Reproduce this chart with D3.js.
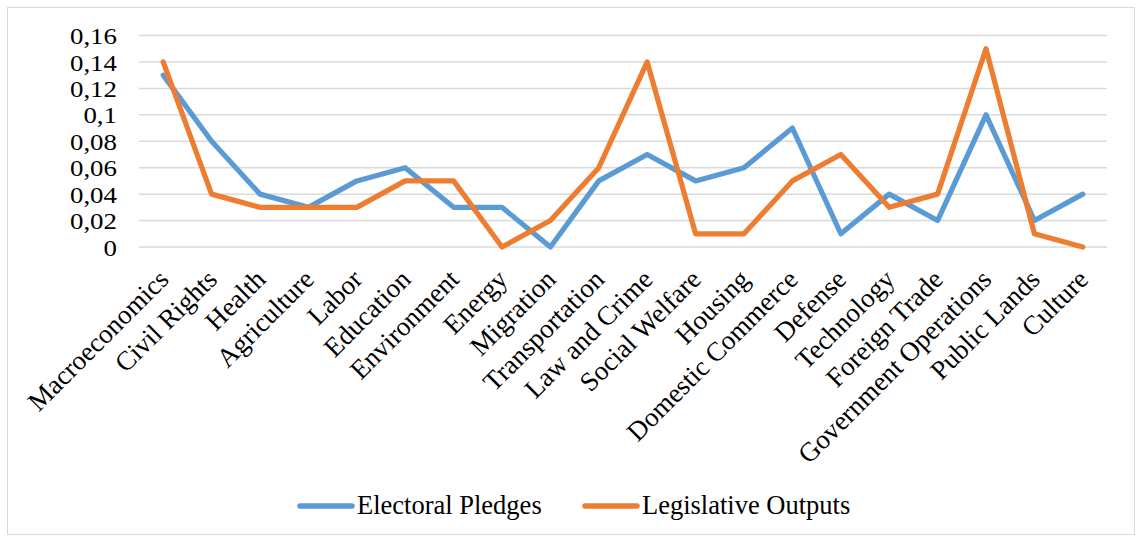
<!DOCTYPE html>
<html>
<head>
<meta charset="utf-8">
<script src="https://cdn.jsdelivr.net/npm/d3@7"></script>
<style>
  html, body { margin: 0; padding: 0; background: #fff; }
  svg { display: block; }
  text { font-family: "Liberation Serif", "Times New Roman", serif; fill: #000; }
</style>
</head>
<body>
<svg id="chart" width="1136" height="540"></svg>
<script>
// Policy topics on the horizontal axis
const categories = [
  "Macroeconomics", "Civil Rights", "Health", "Agriculture", "Labor",
  "Education", "Environment", "Energy", "Migration", "Transportation",
  "Law and Crime", "Social Welfare", "Housing", "Domestic Commerce", "Defense",
  "Technology", "Foreign Trade", "Government Operations", "Public Lands", "Culture"
];

// Share of attention per topic
const electoralPledges = [
  0.13, 0.08, 0.04, 0.03, 0.05, 0.06, 0.03, 0.03, 0, 0.05,
  0.07, 0.05, 0.06, 0.09, 0.01, 0.04, 0.02, 0.10, 0.02, 0.04
];
const legislativeOutputs = [
  0.14, 0.04, 0.03, 0.03, 0.03, 0.05, 0.05, 0, 0.02, 0.06,
  0.14, 0.01, 0.01, 0.05, 0.07, 0.03, 0.04, 0.15, 0.01, 0
];

const yTicks = [0, 0.02, 0.04, 0.06, 0.08, 0.1, 0.12, 0.14, 0.16];
const yTickLabels = ["0", "0,02", "0,04", "0,06", "0,08", "0,1", "0,12", "0,14", "0,16"];

const seriesNames = ["Electoral Pledges", "Legislative Outputs"];
const seriesColors = ["#5B9BD5", "#ED7D31"];

const FONT = "Liberation Serif, Times New Roman, serif";
const svg = d3.select("#chart");

// outer frame
svg.append("rect")
  .attr("x", 7.5).attr("y", 7.5)
  .attr("width", 1127).attr("height", 527)
  .attr("fill", "#fff").attr("stroke", "#d9d9d9").attr("stroke-width", 1);

const plot = { left: 139, right: 1107, top: 35.5, bottom: 247 };

const x = d3.scaleBand().domain(categories).range([plot.left, plot.right]);
const y = d3.scaleLinear().domain([0, 0.16]).range([plot.bottom, plot.top]);

// horizontal gridlines
svg.append("g")
  .selectAll("line")
  .data(yTicks)
  .join("line")
  .attr("x1", plot.left).attr("x2", plot.right)
  .attr("y1", d => y(d)).attr("y2", d => y(d))
  .attr("stroke", "#d9d9d9").attr("stroke-width", 1.5);

// y axis labels (slightly widened glyphs)
const yAxis = d3.axisLeft(y)
  .tickValues(yTicks)
  .tickFormat((d, i) => yTickLabels[i])
  .tickSize(0)
  .tickPadding(0);
const yg = svg.append("g")
  .attr("transform", `translate(${plot.left - 22},0)`)
  .call(yAxis);
yg.select(".domain").remove();
yg.selectAll("text")
  .attr("font-size", 24)
  .attr("font-family", FONT)
  .attr("fill", "#000")
  .attr("dy", "0.34em")
  .attr("transform", "scale(1.12,1)");

// x axis labels, rotated
const xAxis = d3.axisBottom(x).tickSize(0).tickPadding(0);
const xg = svg.append("g")
  .attr("transform", `translate(0,${plot.bottom})`)
  .call(xAxis);
xg.select(".domain").remove();
xg.selectAll("text")
  .attr("font-size", 27)
  .attr("font-family", FONT)
  .attr("fill", "#000")
  .attr("text-anchor", "end")
  .attr("dy", null)
  .attr("y", 0)
  .attr("transform", "translate(7,34) rotate(-45)");

// series lines
const line = d3.line()
  .x((d, i) => x(categories[i]) + x.bandwidth() / 2)
  .y(d => y(d));

[electoralPledges, legislativeOutputs].forEach((vals, k) => {
  svg.append("path")
    .datum(vals)
    .attr("fill", "none")
    .attr("stroke", seriesColors[k])
    .attr("stroke-width", 5.2)
    .attr("stroke-linejoin", "round")
    .attr("stroke-linecap", "round")
    .attr("d", line);
});

// legend
const legendItems = [
  { x: 300, name: seriesNames[0], color: seriesColors[0] },
  { x: 585, name: seriesNames[1], color: seriesColors[1] }
];
const lg = svg.append("g");
legendItems.forEach(it => {
  lg.append("line")
    .attr("x1", it.x).attr("x2", it.x + 52)
    .attr("y1", 506).attr("y2", 506)
    .attr("stroke", it.color).attr("stroke-width", 5.5)
    .attr("stroke-linecap", "round");
  lg.append("text")
    .attr("x", it.x + 57).attr("y", 514)
    .attr("font-size", 26.5)
    .attr("font-family", FONT)
    .text(it.name);
});
</script>
</body>
</html>
